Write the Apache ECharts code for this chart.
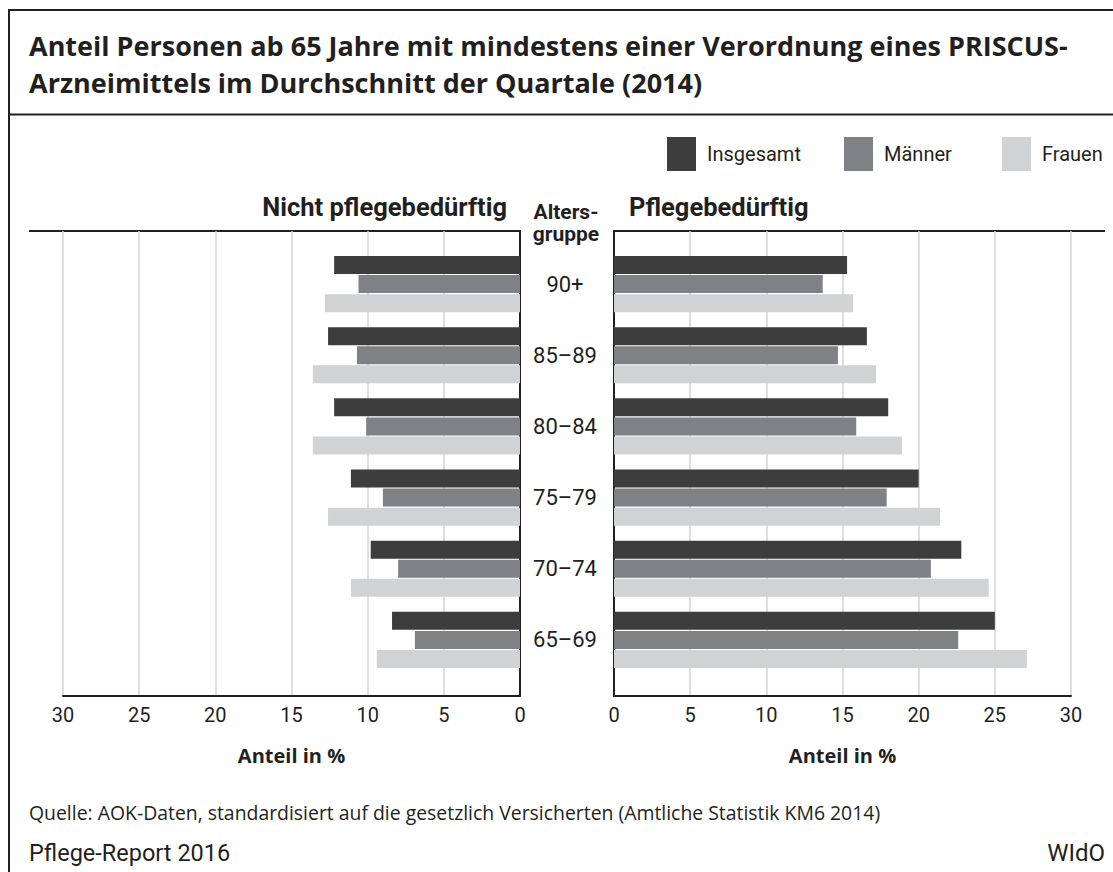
<!DOCTYPE html>
<html><head><meta charset="utf-8">
<script src="https://cdn.jsdelivr.net/npm/echarts@6/dist/echarts.min.js"></script>
<style>html,body{margin:0;padding:0;background:#fff}#c{width:1113px;height:872px}</style>
</head><body><div id="c"></div>
<script>
// ---- data ----
const categories = ['90+', '85–89', '80–84', '75–79', '70–74', '65–69'];
const seriesNames = ['Insgesamt', 'Männer', 'Frauen'];
// Nicht pflegebedürftig (Anteil in %)
const nichtInsgesamt = [12.2, 12.6, 12.2, 11.1, 9.8, 8.4];
const nichtMaenner   = [10.6, 10.7, 10.1, 9.0, 8.0, 6.9];
const nichtFrauen    = [12.8, 13.6, 13.6, 12.6, 11.1, 9.4];
// Pflegebedürftig (Anteil in %)
const pflegeInsgesamt = [15.3, 16.6, 18.0, 20.0, 22.8, 25.0];
const pflegeMaenner   = [13.7, 14.7, 15.9, 17.9, 20.8, 22.6];
const pflegeFrauen    = [15.7, 17.2, 18.9, 21.4, 24.6, 27.1];
const axisMin = 0, axisMax = 30, axisInterval = 5;

const titleLines = ['Anteil Personen ab 65 Jahre mit mindestens einer Verordnung eines PRISCUS-',
                    'Arzneimittels im Durchschnitt der Quartale (2014)'];
const leftPanelTitle = 'Nicht pflegebedürftig';
const rightPanelTitle = 'Pflegebedürftig';
const ageTitle = ['Alters-', 'gruppe'];
const axisName = 'Anteil in %';
const sourceText = 'Quelle: AOK-Daten, standardisiert auf die gesetzlich Versicherten (Amtliche Statistik KM6 2014)';
const footerLeft = 'Pflege-Report 2016';
const footerRight = 'WIdO';

// ---- style ----
const F = 'Roboto, "Liberation Sans", sans-serif';
const FO = '"Open Sans", Roboto, sans-serif';
const INK = '#231f20';
const COLORS = ['#3d3d3d', '#808184', '#d1d2d4'];

const chart = echarts.init(document.getElementById('c'), null, {renderer: 'svg'});

function frameX(grid, inverse) {
  return {
    gridIndex: grid, type: 'value', min: axisMin, max: axisMax, interval: axisInterval, inverse: inverse,
    axisLine: {show: true, onZero: false, lineStyle: {color: INK, width: 2}},
    axisTick: {show: false},
    axisLabel: {fontFamily: F, fontSize: 20, color: INK, margin: 9},
    splitLine: {show: true, lineStyle: {color: '#d3d3d3', width: 1.5}},
    name: axisName, nameLocation: 'middle', nameGap: 49,
    nameTextStyle: {fontFamily: FO, fontSize: 20, fontWeight: 'bold', color: INK}
  };
}
function frameY(grid, pos) {
  return {
    gridIndex: grid, type: 'value', min: 0, max: 1, position: pos,
    axisLine: {show: true, onZero: false, lineStyle: {color: INK, width: 2}},
    axisTick: {show: false}, axisLabel: {show: false}, splitLine: {show: false}
  };
}
function barSeries(name, data, xi, yi, ci) {
  return {
    name: name, type: 'bar', xAxisIndex: xi, yAxisIndex: yi, data: data,
    barWidth: 18, barGap: '6%', silent: true,
    itemStyle: {color: COLORS[ci]}
  };
}
function txt(x, y, text, size, weight, align, family) {
  return {type: 'text', x: x, y: y, silent: true,
    style: {text: text, fontFamily: family || F, fontSize: size, fontWeight: weight, fill: INK,
            align: align, verticalAlign: 'middle'}};
}
function line(x1, y1, x2, y2, w) {
  return {type: 'line', silent: true, shape: {x1: x1, y1: y1, x2: x2, y2: y2},
    style: {stroke: INK, lineWidth: w}};
}

const legendLeft = [667, 844, 1002];

chart.setOption({
  animation: false,
  backgroundColor: '#fff',
  grid: [
    {left: 63, top: 231, width: 457, height: 465},
    {left: 63, top: 248.5, width: 457, height: 427},
    {left: 614, top: 231, width: 457, height: 465},
    {left: 614, top: 248.5, width: 457, height: 427}
  ],
  xAxis: [
    frameX(0, true),
    {gridIndex: 1, type: 'value', min: axisMin, max: axisMax, inverse: true, show: false},
    frameX(2, false),
    {gridIndex: 3, type: 'value', min: axisMin, max: axisMax, show: false}
  ],
  yAxis: [
    frameY(0, 'right'),
    {gridIndex: 1, type: 'category', data: categories, inverse: true, show: false},
    frameY(2, 'left'),
    {gridIndex: 3, type: 'category', data: categories, inverse: true,
     axisLine: {show: false}, axisTick: {show: false}, splitLine: {show: false},
     axisLabel: {align: 'center', margin: 49, fontFamily: F, fontSize: 22, color: INK}}
  ],
  legend: seriesNames.map((n, i) => ({
    data: [n], left: legendLeft[i], top: 137, orient: 'horizontal',
    itemWidth: 29, itemHeight: 34, icon: 'rect', padding: 0, itemGap: 0,
    selectedMode: false,
    textStyle: {fontFamily: F, fontSize: 20, color: INK, padding: [0, 0, 0, 6]}
  })),
  series: [
    barSeries(seriesNames[0], nichtInsgesamt, 1, 1, 0),
    barSeries(seriesNames[1], nichtMaenner, 1, 1, 1),
    barSeries(seriesNames[2], nichtFrauen, 1, 1, 2),
    barSeries(seriesNames[0], pflegeInsgesamt, 3, 3, 0),
    barSeries(seriesNames[1], pflegeMaenner, 3, 3, 1),
    barSeries(seriesNames[2], pflegeFrauen, 3, 3, 2)
  ],
  graphic: [
    line(9, 10, 9, 872, 2),
    line(8, 10, 1113, 10, 2),
    line(8, 114.5, 1113, 114.5, 2),
    line(29, 231, 521, 231, 2),
    line(613, 231, 1105, 231, 2),
    txt(29, 45, titleLines[0], 27, 'bold', 'left', FO),
    txt(29, 82, titleLines[1], 27, 'bold', 'left', FO),
    txt(507, 207, leftPanelTitle, 25.5, 'bold', 'right'),
    txt(629, 207, rightPanelTitle, 25.5, 'bold', 'left'),
    txt(566, 212, ageTitle[0], 21, 'bold', 'center'),
    txt(566, 234, ageTitle[1], 21, 'bold', 'center'),
    txt(29, 812.5, sourceText, 19.4, 'normal', 'left', FO),
    txt(29, 852.5, footerLeft, 23.5, 'normal', 'left'),
    txt(1105, 853, footerRight, 24, 'normal', 'right')
  ]
});
</script>
</body></html>
